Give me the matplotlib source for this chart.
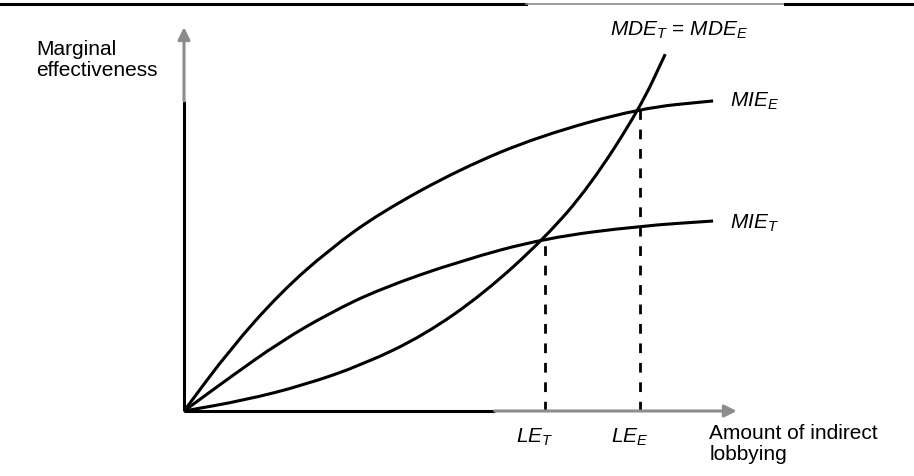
import numpy as np
import matplotlib
matplotlib.use("Agg")
import matplotlib.pyplot as plt
from matplotlib.path import Path
from matplotlib.patches import PathPatch
from matplotlib.lines import Line2D

plt.rcParams['font.family'] = ['Liberation Sans', 'DejaVu Sans']
plt.rcParams['mathtext.fontset'] = 'custom'
plt.rcParams['mathtext.rm'] = 'Liberation Sans'
plt.rcParams['mathtext.it'] = 'Liberation Sans:italic'

# curves (x = amount of indirect lobbying, y = marginal effectiveness)
mie_e_x = [0, 0.84, 1.75, 2.65, 3.56, 5.02, 6.47, 8.29, 9.62]
mie_e_y = [0, 1.63, 3.11, 4.26, 5.21, 6.37, 7.24, 7.97, 8.16]

mie_t_x = [0, 0.84, 1.75, 2.65, 3.56, 5.02, 6.56, 8.29, 9.62]
mie_t_y = [0, 0.89, 1.82, 2.58, 3.21, 3.95, 4.55, 4.87, 5.00]

mde_x = [0, 1.09, 2.18, 3.27, 4.36, 5.45, 6.56, 7.38, 8.29, 8.75]
mde_y = [0, 0.28, 0.68, 1.23, 1.99, 3.09, 4.55, 5.92, 7.97, 9.39]

# equilibria
le_x = [6.56, 8.29]
le_y = [4.55, 8.13]
le_labels = [r'$LE_T$', r'$LE_E$']

BLACK = '#000000'
GREY = '#8c8c8c'
LW = 2.2


def smooth(ax, xs, ys):
    # quadratic spline through midpoints so the polyline reads as a smooth curve
    pts = np.column_stack([xs, ys])
    verts = [pts[0], (pts[0] + pts[1]) / 2]
    codes = [Path.MOVETO, Path.LINETO]
    for i in range(1, len(pts) - 1):
        verts += [pts[i], (pts[i] + pts[i + 1]) / 2]
        codes += [Path.CURVE3, Path.CURVE3]
    verts.append(pts[-1])
    codes.append(Path.LINETO)
    ax.add_patch(PathPatch(Path(verts, codes), fill=False, lw=LW,
                           ec=BLACK, capstyle='butt', joinstyle='round'))


fig = plt.figure(figsize=(9.14, 4.77), dpi=100)
ax = fig.add_axes([0, 0, 1, 1])
ax.set_xlim(-184 / 55, (914 - 184) / 55)
ax.set_ylim(-(477 - 412) / 38, 412 / 38)
ax.axis('off')

# top rule of the page
top = 1 - 5 / 477
fig.add_artist(Line2D([0, 526 / 914], [top, top], color=BLACK, lw=2.2))
fig.add_artist(Line2D([526 / 914, 785 / 914], [top, top], color=GREY, lw=1.2))
fig.add_artist(Line2D([785 / 914, 1], [top, top], color=BLACK, lw=2.2))

# axes: black stems, grey arrowed ends
ax.plot([0, 0], [0, 8.16], color=BLACK, lw=LW, solid_capstyle='butt')
ax.annotate('', xy=(0, 10.1), xytext=(0, 8.16),
            arrowprops=dict(arrowstyle='-|>', color=GREY, lw=LW,
                            mutation_scale=18, shrinkA=0, shrinkB=0))
ax.plot([0, 5.65], [0, 0], color=BLACK, lw=LW, solid_capstyle='butt')
ax.annotate('', xy=(10.05, 0), xytext=(5.65, 0),
            arrowprops=dict(arrowstyle='-|>', color=GREY, lw=LW,
                            mutation_scale=18, shrinkA=0, shrinkB=0))

smooth(ax, mie_e_x, mie_e_y)
smooth(ax, mie_t_x, mie_t_y)
smooth(ax, mde_x, mde_y)

for x, y, lab in zip(le_x, le_y, le_labels):
    ax.plot([x, x], [0, y], color=BLACK, lw=2.0, ls=(0, (3.5, 3.5)))
    ax.text(x - 0.19, -0.82, lab, fontsize=15, ha='center', va='baseline')

fs = 15
ax.text(-2.69, 9.79, 'Marginal\neffectiveness', fontsize=fs,
        ha='left', va='top', linespacing=1.15)
ax.text(9.55, -0.32, 'Amount of indirect\nlobbying', fontsize=fs,
        ha='left', va='top', linespacing=1.15)
ax.text(9.93, 8.03, r'$MIE_E$', fontsize=fs, ha='left', va='baseline')
ax.text(9.93, 4.82, r'$MIE_T$', fontsize=fs, ha='left', va='baseline')
ax.text(9.0, 9.89, r'$MDE_T$ = $MDE_E$', fontsize=fs, ha='center', va='baseline')

fig.savefig('out.png', dpi=100)
